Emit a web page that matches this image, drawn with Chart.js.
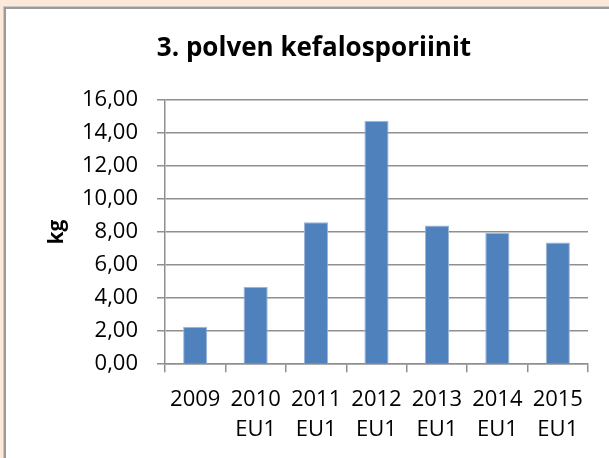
<!DOCTYPE html>
<html>
<head>
<meta charset="utf-8">
<script src="https://cdn.jsdelivr.net/npm/chart.js@4"></script>
<style>
  html, body { margin: 0; padding: 0; }
  body { width: 609px; height: 458px; background: #fde9d9; position: relative; overflow: hidden; }
  .panel { position: absolute; left: 4px; top: 7px; width: 620px; height: 470px; background: #fff;
           border-left: 2px solid #9a9a9a; border-top: 2px solid #9a9a9a; box-shadow: -1px -1px 0 #c8c8c8; }
  canvas { position: absolute; left: 0; top: 0; }
</style>
</head>
<body>
<div class="panel"></div>
<canvas id="chart" width="609" height="458"></canvas>
<script>
const categories = [['2009'], ['2010', 'EU1'], ['2011', 'EU1'], ['2012', 'EU1'], ['2013', 'EU1'], ['2014', 'EU1'], ['2015', 'EU1']]
const values = [2.27, 4.69, 8.6, 14.75, 8.4, 7.97, 7.37]
const yTicks = [0, 2, 4, 6, 8, 10, 12, 14, 16]

const gridColor = '#8f8f8f'
const fontFamily = '"Open Sans", sans-serif'

const config = {
  type: 'bar',
  data: {
    labels: categories,
    datasets: [
      {
        label: 'kg',
        data: values,
        backgroundColor: '#4f81bd',
        borderColor: '#9db5d8',
        borderWidth: 1,
        barPercentage: 0.4,
        categoryPercentage: 1
      }
    ]
  },
  options: {
    responsive: false,
    animation: false,
    layout: {
      padding: { left: 40, right: 21, top: 10, bottom: 0 }
    },
    plugins: {
      legend: { display: false },
      tooltip: { enabled: false },
      title: {
        display: true,
        text: '3. polven kefalosporiinit',
        color: '#000',
        font: { family: fontFamily, size: 26, weight: 'bold', lineHeight: 1.2 },
        padding: { top: 23, bottom: 36 }
      }
    },
    scales: {
      x: {
        grid: {
          offset: true,
          drawOnChartArea: false,
          drawTicks: true,
          tickLength: 8,
          color: gridColor,
          lineWidth: 1.5
        },
        border: { display: true, color: gridColor, width: 1.5 },
        ticks: {
          color: '#000',
          padding: 13,
          maxRotation: 0,
          autoSkip: false,
          font: { family: fontFamily, size: 22, lineHeight: 1.36 }
        }
      },
      y: {
        min: 0,
        max: 16,
        afterBuildTicks: s => { s.ticks = yTicks.map(v => ({ value: v })) },
        afterFit: s => { s.width = 125 },
        grid: {
          color: gridColor,
          lineWidth: 1.5,
          tickLength: 8
        },
        border: { display: true, color: gridColor, width: 1.5 },
        title: {
          display: true,
          text: 'kg',
          color: '#000',
          font: { family: fontFamily, size: 21, weight: 'bold', lineHeight: 1.2 },
          padding: { top: 4, bottom: 0 }
        },
        ticks: {
          color: '#000',
          padding: 19,
          font: { family: fontFamily, size: 22 },
          callback: v => v.toFixed(2).replace('.', ',')
        }
      }
    }
  }
}

new Chart(document.getElementById('chart').getContext('2d'), config)
</script>
</body>
</html>
